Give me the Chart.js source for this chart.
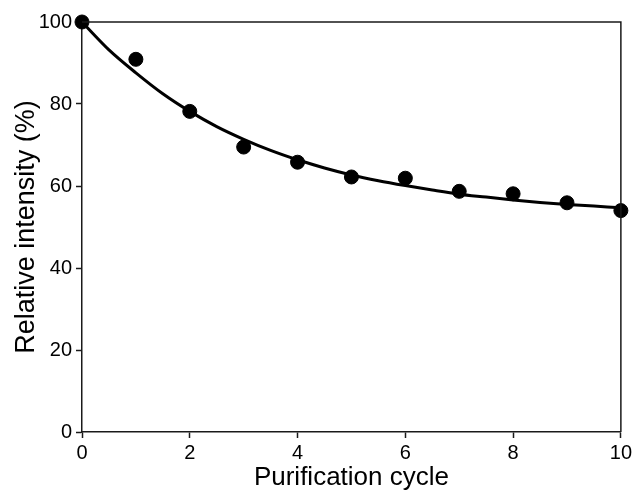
<!DOCTYPE html>
<html>
<head>
<meta charset="utf-8">
<script src="https://cdn.jsdelivr.net/npm/chart.js@4"></script>
<style>
  html, body { margin: 0; padding: 0; background: #fff; }
  #wrap { width: 635px; height: 493px; }
</style>
</head>
<body>
<div id="wrap"><canvas id="chart"></canvas></div>
<script>
// measured points
const cycles = [0, 1, 2, 3, 4, 5, 6, 7, 8, 9, 10];
const intensity = [100, 90.9, 78.2, 69.5, 65.8, 62.2, 61.9, 58.7, 58.1, 55.9, 54.0];

// fitted curve
const fitX = [0, 0.5, 1, 1.5, 2, 2.5, 3, 3.5, 4, 4.5, 5, 5.5, 6, 6.5, 7, 7.5, 8, 8.5, 9, 9.5, 10];
const fitY = [100, 93.2, 87.6, 82.5, 78.2, 74.5, 71.4, 68.7, 66.4, 64.4, 62.7, 61.3, 60.1, 59.0, 58.0, 57.3, 56.6, 56.0, 55.5, 55.1, 54.7];

const xTicks = [0, 2, 4, 6, 8, 10];
const yTicks = [0, 20, 40, 60, 80, 100];

const fontFamily = '"Liberation Sans", Arial, sans-serif';
const axisColor = '#1a1a1a';

const frame = {
    id: 'frame',
    afterDatasetsDraw(chart) {
        const { ctx, chartArea: a } = chart;
        ctx.save();
        ctx.strokeStyle = axisColor;
        ctx.lineWidth = 1.5;
        ctx.beginPath();
        ctx.moveTo(a.left, a.top);
        ctx.lineTo(a.right, a.top);
        ctx.lineTo(a.right, a.bottom);
        ctx.stroke();
        ctx.restore();
    },
};

new Chart(document.getElementById('chart'), {
    type: 'scatter',
    data: {
        datasets: [
            {
                label: 'fit',
                data: fitX.map((x, i) => ({ x: x, y: fitY[i] })),
                showLine: true,
                borderColor: '#000',
                borderWidth: 3,
                pointRadius: 0,
                cubicInterpolationMode: 'monotone',
                clip: false,
                order: 2,
            },
            {
                label: 'data',
                data: cycles.map((x, i) => ({ x: x, y: intensity[i] })),
                backgroundColor: '#000',
                borderColor: '#000',
                pointRadius: 7,
                clip: false,
                order: 1,
            },
        ],
    },
    options: {
        responsive: true,
        maintainAspectRatio: false,
        animation: false,
        layout: { padding: { top: 22, right: 13, left: 0, bottom: 0 } },
        plugins: {
            legend: { display: false },
            tooltip: { enabled: false },
        },
        scales: {
            x: {
                type: 'linear',
                min: 0,
                max: 10,
                afterBuildTicks: (s) => { s.ticks = xTicks.map(v => ({ value: v })); },
                afterFit: (s) => { s.height = 61; },
                border: { color: axisColor, width: 1.5 },
                grid: { drawOnChartArea: false, drawTicks: true, tickLength: 6, tickColor: axisColor, tickWidth: 1.5 },
                ticks: { color: '#000', font: { family: fontFamily, size: 20 }, padding: 3 },
                title: {
                    display: true,
                    text: 'Purification cycle',
                    color: '#000',
                    font: { family: fontFamily, size: 26 },
                    padding: { top: 0, bottom: 0 },
                },
            },
            y: {
                min: 0,
                max: 100,
                afterBuildTicks: (s) => { s.ticks = yTicks.map(v => ({ value: v })); },
                afterFit: (s) => { s.width = 82; },
                border: { color: axisColor, width: 1.5 },
                grid: { drawOnChartArea: false, drawTicks: true, tickLength: 6, tickColor: axisColor, tickWidth: 1.5 },
                ticks: { color: '#000', font: { family: fontFamily, size: 20 }, padding: 4 },
                title: {
                    display: true,
                    text: 'Relative intensity (%)',
                    color: '#000',
                    font: { family: fontFamily, size: 27 },
                    padding: { top: 10, bottom: 0 },
                },
            },
        },
    },
    plugins: [frame],
});
</script>
</body>
</html>
